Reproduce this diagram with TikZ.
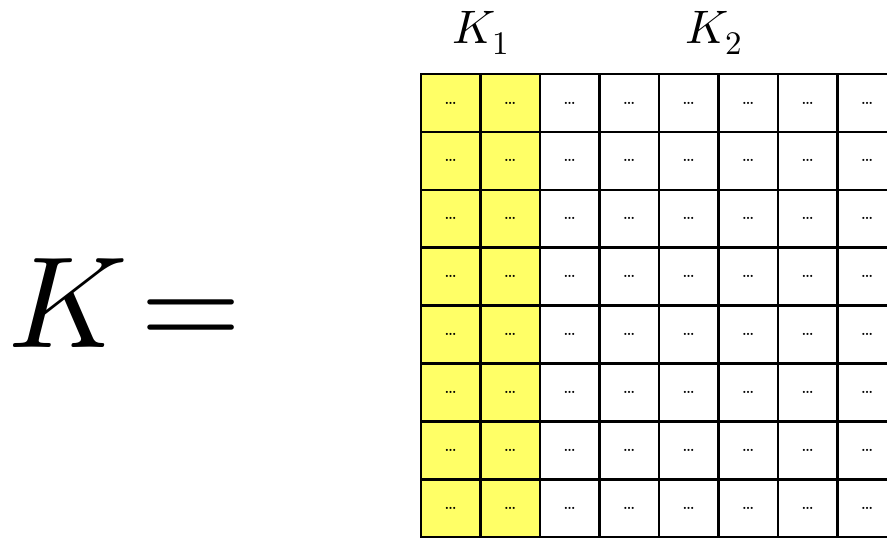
\documentclass[tikz,border=0pt]{standalone}
\usepackage{unicode-math}
\usetikzlibrary{positioning}
\definecolor{cellyel}{RGB}{255,255,102}
\tikzset{
  cell/.style={draw=black, line width=2.5pt, fill=#1, minimum width=59.5pt,
    minimum height=57.9pt, inner sep=0pt, font=\fontsize{15}{15}\selectfont\bfseries},
  klab/.style={font=\fontsize{47}{47}\selectfont, anchor=base},
  biglab/.style={font=\fontsize{130}{130}\selectfont, anchor=base},
}
\begin{document}
\begin{tikzpicture}[x=1pt,y=-1pt]
\useasboundingbox (0,0) rectangle (887,539);
\clip (0,0) rectangle (887,539);
% left-hand side
\node[biglab] (bigK) at (68,347) {$K$};
\node[biglab] (eqs) at (191,347) {$=$};
% column block labels
\node[klab] (k1) at (481,43) {$K_1$};
\node[klab] (k2) at (714,43) {$K_2$};
% the matrix
\foreach \r in {1,...,8}
  \foreach \c in {1,...,8}{
    \ifnum\c<3 \def\fc{cellyel}\else\def\fc{white}\fi
    \node[cell=\fc] (c-\r-\c) at ({421+59.5*(\c-0.5)},{74+57.9*(\r-0.5)}) {\ldots};
  }
\end{tikzpicture}
\end{document}
